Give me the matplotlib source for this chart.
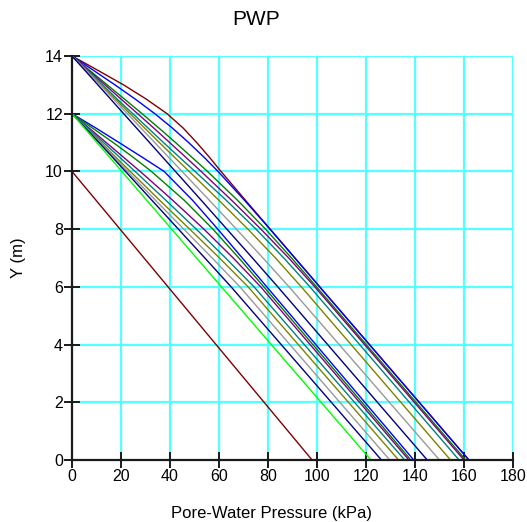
import matplotlib
matplotlib.use('Agg')
import matplotlib.pyplot as plt

plt.rcParams['font.family'] = ['Liberation Sans', 'DejaVu Sans']

# profiles starting at Y = 14 m
y14 = [14, 13.5, 13, 12.5, 12, 11.5, 11, 10.5, 10, 9, 8, 7, 6, 0]
p14_darkred = [0, 10.6, 21.0, 30.4, 38.8, 45.4, 50.9, 56.0, 60.8, 70.8, 80.9, 91.0, 101.1, 162]
p14_blue = [0, 8.8, 17.5, 25.9, 33.8, 41.0, 47.6, 53.8, 59.6, 70.4, 80.8, 90.95, 101.1, 162]
p14_green = [0, 7.2, 14.35, 21.5, 28.6, 35.5, 42.25, 48.8, 55.3, 67.55, 79.0, 89.6, 99.8, 160.7]
p14_purple = [0, 6.8, 13.45, 20.1, 26.8, 33.4, 39.85, 46.3, 52.7, 65.15, 77.1, 88.45, 99.1, 160]
p14_teal = [0, 6.27, 12.45, 18.52, 24.8, 31.07, 37.35, 43.72, 50.2, 62.95, 75.1, 86.45, 97.1, 158]
p14_olive = [0, 5.97, 11.95, 17.82, 23.7, 29.67, 35.65, 41.72, 47.8, 59.95, 71.8, 83.05, 93.6, 154.5]
p14_gray = [0, 5.77, 11.45, 17.02, 22.6, 28.17, 33.75, 39.32, 44.9, 56.05, 67.1, 77.95, 88.6, 150]
p14_navy = [0, 5.27, 10.55, 15.82, 21.1, 26.37, 31.65, 36.92, 42.2, 52.75, 63.2, 73.65, 84.0, 145]

# profiles starting at Y = 12 m
y12 = [12, 11.5, 11, 10.5, 10, 9, 8, 7, 6, 0]
p12_blue = [0, 9.8, 19.2, 28.5, 37.6, 49.2, 59.5, 69.5, 79.5, 139.5]
p12_green = [0, 8.4, 16.8, 24.8, 32.4, 45.8, 57.5, 68.1, 78.3, 138.3]
p12_purple = [0, 7.0, 13.95, 20.9, 27.8, 41.1, 53.83, 65.8, 77.03, 137.5]
p12_teal = [0, 6.5, 12.9, 19.3, 25.73, 38.3, 50.7, 62.7, 74.3, 135.8]
p12_olive = [0, 6.0, 11.93, 17.77, 23.77, 35.78, 48.03, 60.2, 71.88, 133.3]
p12_gray = [0, 5.7, 11.41, 17.04, 22.66, 34.07, 45.63, 57.2, 68.53, 129.7]
p12_navy = [0, 5.54, 11.02, 16.42, 21.82, 32.62, 43.42, 54.22, 64.94, 126.3]
y12_lime = [12, 0]
p12_lime = [0, 122]

# profile starting at Y = 10 m
y10 = [10, 0]
p10_darkred = [0, 98]

fig = plt.figure(figsize=(5.27, 5.22), dpi=100)
ax = fig.add_axes([0.1366, 0.1188, 0.8368, 0.774])

gc = '#55ffff'
for gx in range(20, 181, 20):
    ax.axvline(gx, color=gc, lw=1.6, zorder=1)
for gy in range(2, 15, 2):
    ax.axhline(gy, color=gc, lw=1.6, zorder=1)

lw = 1.0
ax.plot(p14_darkred, y14, color='#800000', lw=lw)
ax.plot(p14_blue, y14, color='#0000ff', lw=lw)
ax.plot(p14_green, y14, color='#008000', lw=lw)
ax.plot(p14_purple, y14, color='#800080', lw=lw)
ax.plot(p14_teal, y14, color='#008080', lw=lw)
ax.plot(p14_olive, y14, color='#808000', lw=lw)
ax.plot(p14_gray, y14, color='#999999', lw=lw)
ax.plot(p14_navy, y14, color='#000080', lw=lw)

ax.plot(p12_blue, y12, color='#0000ff', lw=lw)
ax.plot(p12_green, y12, color='#008000', lw=lw)
ax.plot(p12_purple, y12, color='#800080', lw=lw)
ax.plot(p12_teal, y12, color='#008080', lw=lw)
ax.plot(p12_olive, y12, color='#808000', lw=lw)
ax.plot(p12_gray, y12, color='#999999', lw=lw)
ax.plot(p12_navy, y12, color='#000080', lw=lw)
ax.plot(p12_lime, y12_lime, color='#00ff00', lw=lw)

ax.plot(p10_darkred, y10, color='#800000', lw=lw)

ax.set_xlim(0, 180)
ax.set_ylim(0, 14)
ax.set_xticks(range(0, 181, 20))
ax.set_yticks(range(0, 15, 2))
for s in ['top', 'right']:
    ax.spines[s].set_visible(False)
for s in ['left', 'bottom']:
    ax.spines[s].set_linewidth(1.6)
    ax.spines[s].set_color('#1a1a1a')
    ax.spines[s].set_zorder(5)
ax.tick_params(direction='inout', length=11, width=1.4, labelsize=11.5, color='#1a1a1a', pad=1)

fig.text(0.486, 0.962, 'PWP', fontsize=15, ha='center', va='center')
ax.set_xlabel('Pore-Water Pressure (kPa)', fontsize=12, labelpad=12)
ax.xaxis.set_label_coords(0.4535, -0.113)
ax.set_ylabel('Y (m)', fontsize=12, labelpad=14)

fig.savefig('out.png', dpi=100)
